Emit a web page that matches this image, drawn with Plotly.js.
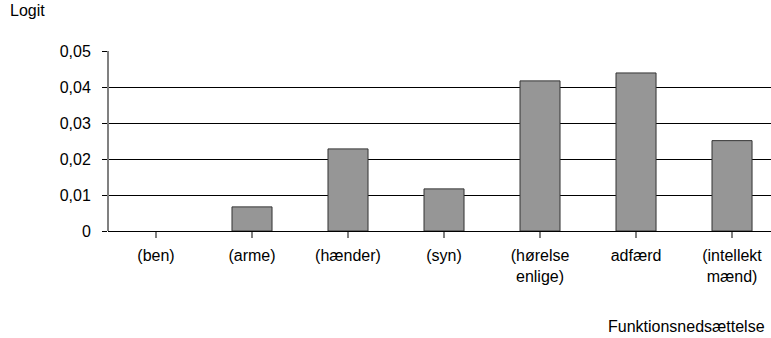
<!DOCTYPE html>
<html>
<head>
<meta charset="utf-8">
<script src="https://cdn.plot.ly/plotly-3.0.1.min.js"></script>
<style>html,body{margin:0;padding:0;overflow:hidden;background:#fff}</style>
</head>
<body>
<div id="chart" style="width:771px;height:338px"></div>
<script>
const categories = ["(ben)", "(arme)", "(hænder)", "(syn)", "(hørelse<br>enlige)", "adfærd", "(intellekt<br>mænd)"];
const values = [0, 0.0067, 0.0228, 0.0117, 0.0417, 0.0439, 0.0251];
const yTickVals = [0, 0.01, 0.02, 0.03, 0.04, 0.05];
const yTickText = ["0", "0,01", "0,02", "0,03", "0,04", "0,05"];
const yTitle = "Logit";
const xTitle = "Funktionsnedsættelse";

const font = {family: "Liberation Sans, Arial, sans-serif", size: 16, color: "#000"};
const idx = categories.map((c, i) => i);

const trace = {
  type: "bar",
  x: idx,
  y: values,
  marker: {color: "#969696", line: {color: "#333333", width: values.map(v => v === 0 ? 0 : 1)}},
  width: 0.417,
  hoverinfo: "skip"
};

const layout = {
  width: 771, height: 338,
  margin: {l: 108, r: 0, t: 51, b: 107, pad: 0},
  paper_bgcolor: "#fff", plot_bgcolor: "#fff",
  font: font,
  showlegend: false,
  xaxis: {
    range: [-0.5, 6.406],
    tickmode: "array",
    tickvals: idx,
    ticktext: categories,
    tickson: "boundaries",
    ticks: "outside", ticklen: 6, tickcolor: "#808080", tickwidth: 2,
    ticklabelstandoff: 4,
    showgrid: false, zeroline: false,
    showline: false,
    fixedrange: true
  },
  yaxis: {
    range: [0, 0.05],
    tickmode: "array",
    tickvals: yTickVals,
    ticktext: yTickText,
    ticks: "outside", ticklen: 5, tickcolor: "#000", tickwidth: 1,
    showgrid: true, gridcolor: "#000", gridwidth: 1,
    zeroline: true, zerolinecolor: "#000", zerolinewidth: 1,
    showline: false,
    ticklabelstandoff: 8,
    fixedrange: true
  },
  shapes: [
    {type: "line", xref: "paper", yref: "y", x0: 0, x1: 0, y0: -0.0017, y1: 0.05,
     line: {color: "#808080", width: 2}, layer: "above"}
  ],
  annotations: [
    {text: yTitle, xref: "paper", yref: "paper", x: -100/663, y: (231-11)/180,
     xanchor: "left", yanchor: "middle", showarrow: false, font: font},
    {text: xTitle, xref: "paper", yref: "paper", x: (767-108)/663, y: (231-326)/180,
     xanchor: "right", yanchor: "middle", showarrow: false, font: font}
  ]
};

Plotly.newPlot("chart", [trace], layout, {displayModeBar: false, staticPlot: true});
</script>
</body>
</html>
